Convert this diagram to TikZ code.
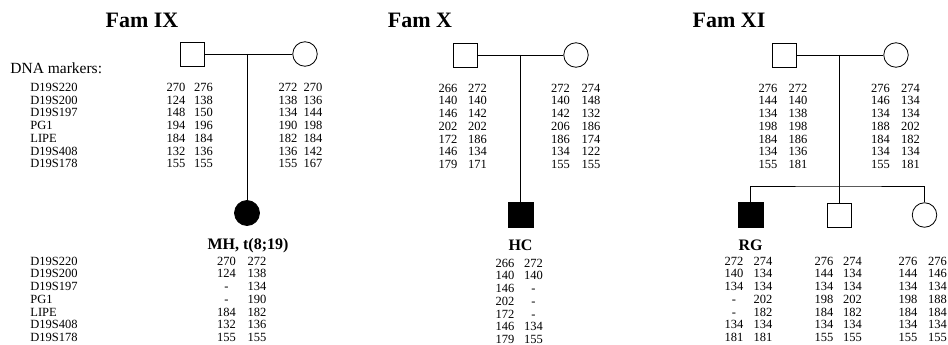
\documentclass[tikz,border=0pt]{standalone}
\usepackage{fontspec}
\setmainfont{Liberation Serif}
\begin{document}
\begin{tikzpicture}[x=1pt,y=-1pt,
  line width=0.8pt,
  male/.style={draw,rectangle,minimum size=24pt,inner sep=0pt},
  female/.style={draw,circle,minimum size=24.5pt,inner sep=0pt},
  affected/.style={fill=black},
  famtitle/.style={font=\fontsize{22}{24}\selectfont\bfseries,inner sep=0pt},
  idlabel/.style={font=\fontsize{16}{18}\selectfont\bfseries,inner sep=0pt},
  num/.style={font=\fontsize{12.5}{13}\selectfont,inner sep=0pt,text height=8.4pt,text depth=0pt},
  marker/.style={font=\fontsize{12.5}{13}\selectfont,inner sep=0pt,anchor=west,text height=8.4pt,text depth=0pt}]
\useasboundingbox (0,0) rectangle (948,345);

% one column of seven allele sizes: centre x, first row y, values
\newcommand\allelecol[3]{%
  \foreach \v [count=\i from 0] in {#3} {\node[num] at (#1,{#2+12.7*\i}) {\v};}}
\newcommand\markerlist[2]{%
  \foreach \m [count=\i from 0] in {D19S220,D19S200,D19S197,PG1,LIPE,D19S408,D19S178}
    {\node[marker] at (#1,{#2+12.7*\i}) {\m};}}

% ---------------- Fam IX ----------------
\node[famtitle] (t9) at (142,20) {Fam IX};
\node[inner sep=0pt,anchor=west,font=\fontsize{15.5}{17}\selectfont] (dna) at (10,68) {DNA markers:};
\markerlist{30}{87.3}
\markerlist{30}{261}

\node[male] (f9) at (192.5,54) {};
\node[female] (m9) at (305,54) {};
\node[female,affected,minimum size=25pt] (c9) at (247,213) {};
\draw (f9.east) -- (m9.west);
\coordinate (d9) at (247,54);
\draw (d9) -- (c9.north);
\node[idlabel] (l9) at (248,246) {MH, t(8;19)};

\allelecol{176}{87.3}{270,124,148,194,184,132,155}
\allelecol{203.5}{87.3}{276,138,150,196,184,136,155}
\allelecol{288}{87.3}{272,138,134,190,182,136,155}
\allelecol{313}{87.3}{270,136,144,198,184,142,167}
\allelecol{226.5}{261}{270,124,-,-,184,132,155}
\allelecol{257}{261}{272,138,134,190,182,136,155}

% ---------------- Fam X ----------------
\node[famtitle] (t10) at (420,20) {Fam X};
\node[male] (f10) at (465,55) {};
\node[female] (m10) at (576,55) {};
\node[male,affected,minimum size=25pt] (c10) at (520.5,215) {};
\draw (f10.east) -- (m10.west);
\coordinate (d10) at (520.5,55);
\draw (d10) -- (c10.north);
\node[idlabel] (l10) at (520.5,245) {HC};

\allelecol{448}{88}{266,140,146,202,172,146,179}
\allelecol{477.5}{88}{272,140,142,202,186,134,171}
\allelecol{560.5}{88}{272,140,142,206,186,134,155}
\allelecol{591}{88}{274,148,132,186,174,122,155}
\allelecol{505}{263}{266,140,146,202,172,146,179}
\allelecol{533.5}{263}{272,140,-,-,-,134,155}

% ---------------- Fam XI ----------------
\node[famtitle] (t11) at (729,20) {Fam XI};
\node[male] (f11) at (784,55) {};
\node[female] (m11) at (896,55) {};
\draw (f11.east) -- (m11.west);
\node[male,affected,minimum size=25pt] (c11a) at (750.5,215) {};
\node[male] (c11b) at (839.5,215) {};
\node[female] (c11c) at (924.5,215) {};
\coordinate (d11) at (839.5,55);
\coordinate (s11) at (839.5,186);
\draw (d11) -- (c11b.north);
\draw (c11a.north) |- (s11) -| (c11c.north);
\node[idlabel] (l11) at (750.5,245) {RG};

\allelecol{768}{88}{276,144,134,198,184,134,155}
\allelecol{798}{88}{272,140,138,198,186,136,181}
\allelecol{880.5}{88}{276,146,134,188,184,134,155}
\allelecol{910.5}{88}{274,134,134,202,182,134,181}
\allelecol{734}{261}{272,140,134,-,-,134,181}
\allelecol{763}{261}{274,134,134,202,182,134,181}
\allelecol{824}{261}{276,144,134,198,184,134,155}
\allelecol{852.5}{261}{274,134,134,202,182,134,155}
\allelecol{908}{261}{276,144,134,198,184,134,155}
\allelecol{937.5}{261}{276,146,134,188,184,134,155}
\end{tikzpicture}
\end{document}
